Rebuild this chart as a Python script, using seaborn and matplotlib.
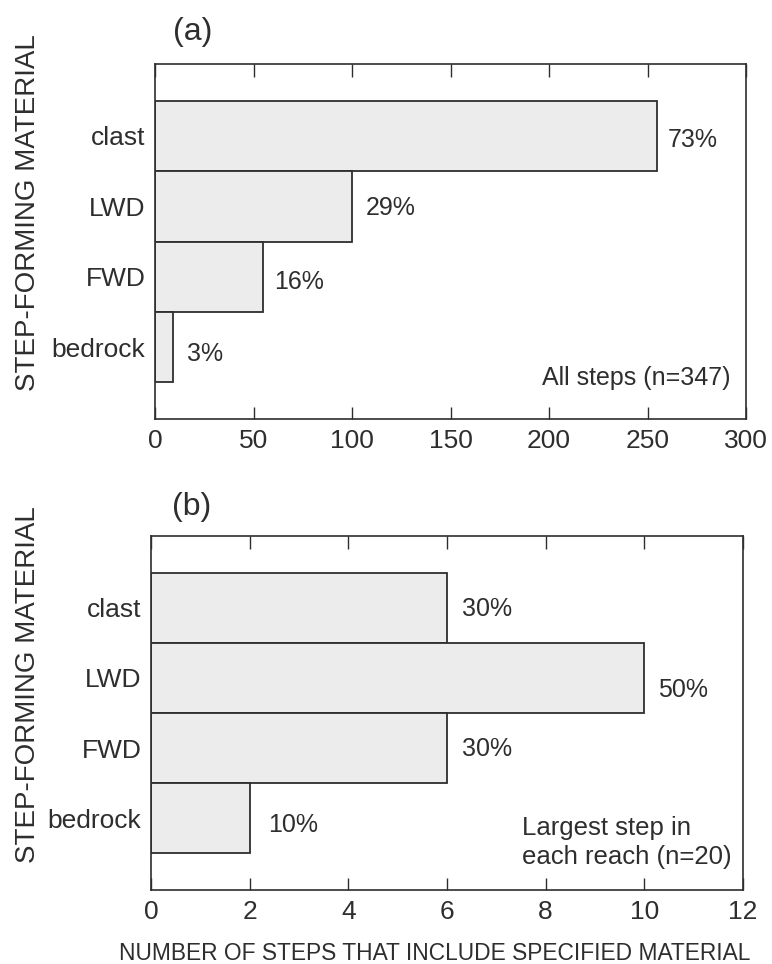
import matplotlib
matplotlib.use("Agg")
import matplotlib.pyplot as plt
import seaborn as sns
import pandas as pd
from matplotlib import font_manager

# ---- data ----
materials = ["clast", "LWD", "FWD", "bedrock"]
all_steps_counts = [255, 100, 55, 9]
all_steps_n = 347
largest_step_counts = [6, 10, 6, 2]
largest_step_n = 20
xticks_a = [0, 50, 100, 150, 200, 250, 300]
xticks_b = [0, 2, 4, 6, 8, 10, 12]
panel_tags = ["(a)", "(b)"]
panel_notes = ["All steps (n=347)", "Largest step in\neach reach (n=20)"]
ylabel_text = "STEP-FORMING MATERIAL"
xlabel_text = "NUMBER OF STEPS THAT INCLUDE SPECIFIED MATERIAL"

# ---- style ----
sns.set_style("white")
ink = "#2e2e2e"
bar_fill = "#ececec"
installed = {f.name for f in font_manager.fontManager.ttflist}
base_font = "Liberation Sans" if "Liberation Sans" in installed else "DejaVu Sans"
plt.rcParams["font.family"] = [base_font, "DejaVu Sans"]
plt.rcParams["text.color"] = ink
plt.rcParams["axes.edgecolor"] = ink
plt.rcParams["xtick.color"] = ink
plt.rcParams["ytick.color"] = ink
plt.rcParams["axes.labelcolor"] = ink

W, H = 772, 964
fig = plt.figure(figsize=(W / 100, H / 100), dpi=100)

# axes boxes in pixels: left, top, right, bottom
boxes = [(155, 64, 746, 419), (151, 536, 743, 890)]
axes = []
for (l, t, r, b) in boxes:
    axes.append(fig.add_axes([l / W, 1 - b / H, (r - l) / W, (b - t) / H]))

panels = [
    (all_steps_counts, all_steps_n, xticks_a),
    (largest_step_counts, largest_step_n, xticks_b),
]
# small label nudges (pixels) for the percent annotations
nudges = [
    [(10, -4), (14, -2), (11, -5), (14, -7)],
    [(15, -1), (14, -12), (15, -1), (18, -7)],
]

for i, (ax, (counts, n, ticks)) in enumerate(zip(axes, panels)):
    df = pd.DataFrame({"material": materials, "count": counts})
    sns.barplot(data=df, x="count", y="material", orient="h", width=1.0,
                color=bar_fill, saturation=1, edgecolor=ink, linewidth=1.3,
                ax=ax)
    ax.set_xlim(ticks[0], ticks[-1])
    ax.set_ylim(len(materials) - 0.5 + 0.52, -0.5 - 0.52)
    ax.set_xticks(ticks)
    ax.set_xticklabels([str(t) for t in ticks])
    ax.tick_params(axis="x", which="both", direction="in", length=9,
                   width=1.0, top=True, bottom=True, labelsize=19, pad=7.5)
    ax.tick_params(axis="y", length=0, labelsize=19, pad=7)
    for sp in ax.spines.values():
        sp.set_visible(True)
        sp.set_linewidth(1.2)
        sp.set_color(ink)

    # percent of steps for each bar
    for j, (patch, c) in enumerate(zip(ax.patches, counts)):
        pct = round(100 * c / n)
        x_end = patch.get_x() + patch.get_width()
        yc = patch.get_y() + patch.get_height() / 2
        dx, dy = nudges[i][j]
        ax.annotate(f"{pct}%", xy=(x_end, yc), xytext=(dx, dy),
                    textcoords="offset pixels", ha="left", va="center",
                    fontsize=18)

    ax.set_ylabel(ylabel_text, fontsize=20)
    ax.set_xlabel("")

axes[0].yaxis.set_label_coords(-0.193, 0.58)
axes[1].yaxis.set_label_coords(-0.186, 0.58)

axes[0].text(0.064, 1.09, panel_tags[0], transform=axes[0].transAxes,
             ha="center", va="center", fontsize=23)
axes[1].text(0.069, 1.082, panel_tags[1], transform=axes[1].transAxes,
             ha="center", va="center", fontsize=23)

axes[0].text(0.973, 0.115, panel_notes[0], transform=axes[0].transAxes,
             ha="right", va="center", fontsize=18)
axes[1].text(0.627, 0.06, panel_notes[1], transform=axes[1].transAxes,
             ha="left", va="bottom", fontsize=18.5, linespacing=1.25)

axes[1].set_xlabel(xlabel_text, fontsize=16.4)
axes[1].xaxis.set_label_coords(0.48, -0.146)

fig.savefig("out.png", dpi=100, facecolor="white")
